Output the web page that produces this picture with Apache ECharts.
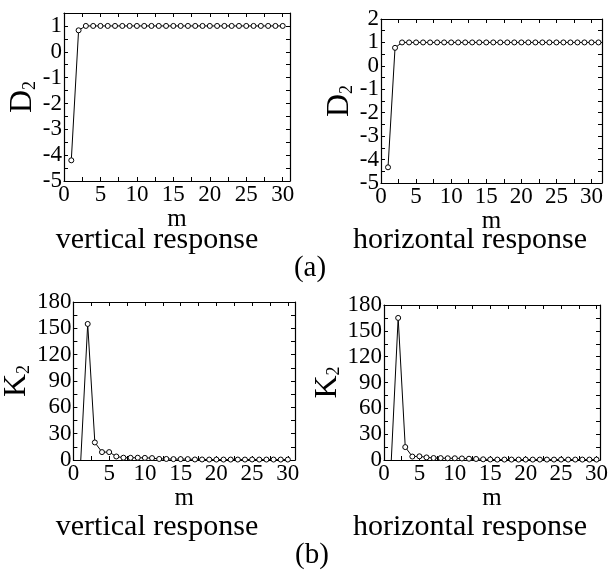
<!DOCTYPE html>
<html>
<head>
<meta charset="utf-8">
<script src="https://cdn.jsdelivr.net/npm/echarts@6/dist/echarts.min.js"></script>
<style>
  html, body { margin: 0; padding: 0; background: #fff; }
  #chart { width: 611px; height: 575px; }
</style>
</head>
<body>
<div id="chart"></div>
<script>
// embedding dimension m
var mVertical = [1, 2, 3, 4, 5, 6, 7, 8, 9, 10, 11, 12, 13, 14, 15,
  16, 17, 18, 19, 20, 21, 22, 23, 24, 25, 26, 27, 28, 29, 30];
var mHorizontal = [1, 2, 3, 4, 5, 6, 7, 8, 9, 10, 11, 12, 13, 14, 15,
  16, 17, 18, 19, 20, 21, 22, 23, 24, 25, 26, 27, 28, 29, 30, 31];

// (a) correlation dimension D2
var d2Vertical = [-4.2, 0.83, 1.0, 1.0, 1.0, 1.0, 1.0, 1.0, 1.0, 1.0,
  1.0, 1.0, 1.0, 1.0, 1.0, 1.0, 1.0, 1.0, 1.0, 1.0,
  1.0, 1.0, 1.0, 1.0, 1.0, 1.0, 1.0, 1.0, 1.0, 1.0];
var d2Horizontal = [-4.33, 0.77, 1.0, 1.0, 1.0, 1.0, 1.0, 1.0, 1.0, 1.0,
  1.0, 1.0, 1.0, 1.0, 1.0, 1.0, 1.0, 1.0, 1.0, 1.0,
  1.0, 1.0, 1.0, 1.0, 1.0, 1.0, 1.0, 1.0, 1.0, 1.0, 1.0];

// (b) K2 entropy
var k2Vertical = [-5, 155, 20, 9, 9, 4, 2.6, 2.5, 2.6, 2.4,
  2.2, 1.2, 1.2, 1.0, 1.0, 1.0, 0.6, 0.6, 0.5, 0.5,
  0.5, 0.5, 0.5, 0.5, 0.6, 0.5, 0.5, 0.5, 0.5, 0.5];
var k2Horizontal = [-5, 165, 15, 4, 4.3, 3, 2.3, 2.2, 2.0, 2.0,
  1.8, 1.5, 1.2, 0.8, 0.6, 0.5, 0.5, 0.5, 0.5, 0.5,
  0.5, 0.5, 0.5, 0.5, 0.5, 0.5, 0.5, 0.5, 0.5, 0.5];

var xLabelStep = 5;
var d2LabelStep = 1;
var k2LabelStep = 30;

var serif = '"Liberation Serif", "Times New Roman", serif';

function pairs(xs, ys) {
  return xs.map(function(x, i) { return [x, ys[i]]; });
}

function onStep(step) {
  return function(v) {
    var r = v / step;
    return Math.abs(r - Math.round(r)) < 1e-6 ? String(Math.round(v)) : '';
  };
}

function axis(gi, pos, min, max, tickStep, labelStep, withLabels, name, nameGap) {
  var a = {
    type: 'value',
    gridIndex: gi,
    position: pos,
    min: min,
    max: max,
    interval: tickStep,
    axisLine: { show: true, onZero: false, lineStyle: { color: '#000', width: 1.2 } },
    axisTick: { show: true, inside: true, length: 4, lineStyle: { color: '#000' } },
    splitLine: { show: false },
    axisLabel: withLabels ? {
      color: '#000', fontFamily: serif, fontSize: 23, margin: 2,
      formatter: onStep(labelStep)
    } : { show: false }
  };
  if (name) {
    a.name = name.text;
    a.nameLocation = 'middle';
    a.nameGap = nameGap;
    a.nameTextStyle = name.style;
  }
  return a;
}

var mName = { text: 'm', style: { color: '#000', fontFamily: serif, fontSize: 25 } };
function subName(letter) {
  return {
    text: '{b|' + letter + '}{s|2}',
    style: {
      rich: {
        b: { color: '#000', fontFamily: serif, fontSize: 32 },
        s: { color: '#000', fontFamily: serif, fontSize: 18, padding: [14, 0, 0, 0] }
      }
    }
  };
}

var grids = [
  { left: 64, top: 13, width: 226, height: 168 },
  { left: 381, top: 19, width: 221, height: 164 },
  { left: 70, top: 302, width: 225, height: 158 },
  { left: 384, top: 305, width: 218, height: 155 }
];
var xMax = [31, 31.5, 31, 30.5];
var yRange = [[-5, 1.5], [-5, 2], [0, 180], [0, 180]];
var yTick = [0.5, 0.5, 15, 15];
var yLabel = [d2LabelStep, d2LabelStep, k2LabelStep, k2LabelStep];
var yNames = [subName('D'), subName('D'), subName('K'), subName('K')];
var yNameGap = [21, 22, 28, 31];

var xAxes = [], yAxes = [];
grids.forEach(function(g, i) {
  xAxes.push(axis(i, 'bottom', 0, xMax[i], 2.5, xLabelStep, true, mName, 18));
  xAxes.push(axis(i, 'top', 0, xMax[i], 2.5, xLabelStep, false));
  yAxes.push(axis(i, 'left', yRange[i][0], yRange[i][1], yTick[i], yLabel[i], true, yNames[i], yNameGap[i]));
  yAxes.push(axis(i, 'right', yRange[i][0], yRange[i][1], yTick[i], yLabel[i], false));
});

var seriesData = [
  pairs(mVertical, d2Vertical),
  pairs(mHorizontal, d2Horizontal),
  pairs(mVertical, k2Vertical),
  pairs(mVertical, k2Horizontal)
];

var series = seriesData.map(function(d, i) {
  return {
    type: 'line',
    xAxisIndex: i * 2,
    yAxisIndex: i * 2,
    data: d,
    clip: true,
    symbol: 'circle',
    symbolSize: 5,
    itemStyle: { color: '#fff', borderColor: '#000', borderWidth: 1 },
    lineStyle: { color: '#000', width: 1 }
  };
});

function label(text, x, y, size) {
  return {
    type: 'text', x: x, y: y,
    style: { text: text, fill: '#000', font: size + 'px ' + serif,
      textAlign: 'center', textVerticalAlign: 'middle' }
  };
}

var chart = echarts.init(document.getElementById('chart'), null, { renderer: 'canvas' });
chart.setOption({
  animation: false,
  backgroundColor: '#fff',
  grid: grids,
  xAxis: xAxes,
  yAxis: yAxes,
  series: series,
  graphic: [
    label('vertical response', 157, 240, 30),
    label('horizontal response', 470, 240, 30),
    label('(a)', 310, 268, 29),
    label('vertical response', 157, 527, 30),
    label('horizontal response', 470, 527, 30),
    label('(b)', 312, 555, 29)
  ]
});
</script>
</body>
</html>
